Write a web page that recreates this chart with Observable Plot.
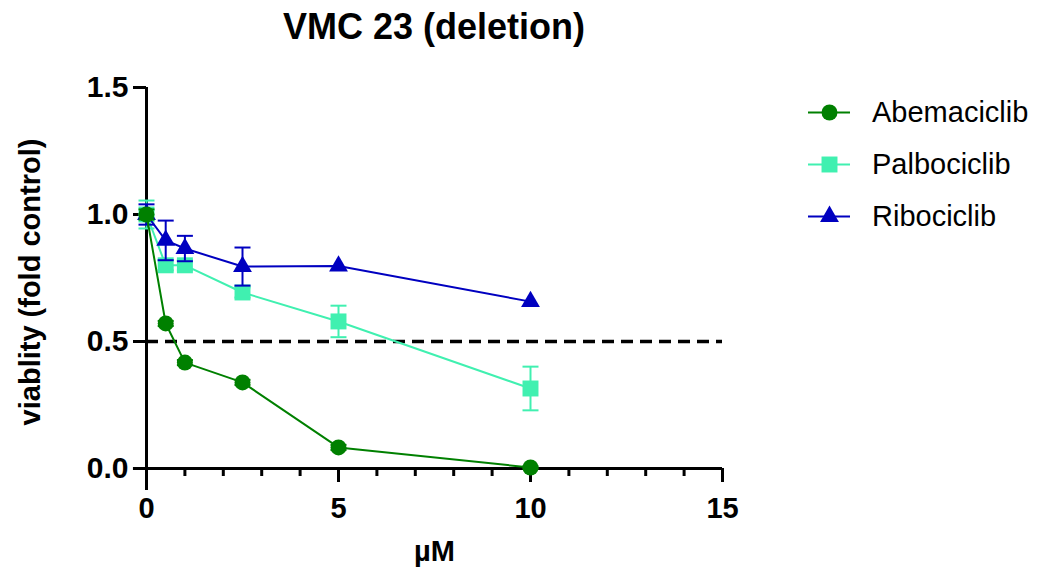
<!DOCTYPE html>
<html>
<head>
<meta charset="utf-8">
<script src="https://cdn.jsdelivr.net/npm/d3@7"></script>
<script src="https://cdn.jsdelivr.net/npm/@observablehq/plot@0.6"></script>
<style>
  html, body { margin: 0; padding: 0; background: #fff; }
  #wrap { position: relative; width: 1048px; height: 575px; font-family: "Liberation Sans", Arial, sans-serif; overflow: hidden; }
  #title { position: absolute; left: 0; top: 2px; width: 868px; height: 50px; text-align: center; font-weight: bold; font-size: 36px; line-height: 50px; }
  #chart { position: absolute; left: 0; top: 50px; }
  #legend { position: absolute; left: 808px; top: 0; }
  .row { position: absolute; left: 0; height: 30px; width: 240px; display: flex; align-items: center; }
  .row span { margin-left: 22px; font-size: 29px; color: #000; white-space: nowrap; }
</style>
</head>
<body>
<div id="wrap">
  <div id="title">VMC 23 (deletion)</div>
  <div id="chart"></div>
  <div id="legend"></div>
</div>
<script>
// ---- data ----
const doses = [0, 0.5, 1, 2.5, 5, 10];
const drugs = ["Abemaciclib", "Palbociclib", "Ribociclib"];
const abemaciclib = [1.0, 0.571, 0.417, 0.339, 0.083, 0.004];
const abemaciclibErr = [0.02, 0.01, 0.01, 0.01, 0.01, 0.005];
const palbociclib = [1.0, 0.80, 0.80, 0.693, 0.579, 0.315];
const palbociclibErr = [0.055, 0.02, 0.02, 0.02, 0.062, 0.086];
const ribociclib = [1.0, 0.898, 0.866, 0.795, 0.797, 0.657];
const ribociclibErr = [0.04, 0.078, 0.05, 0.075, 0, 0];
const colors = ["#008000", "#40F0B0", "#0000C0"];
const symbols = ["circle", "square", "triangle"];
const xTicks = [0, 5, 10, 15];
const xMinorTicks = [1, 2, 3, 4, 6, 7, 8, 9, 11, 12, 13, 14];
const yTicks = [0, 0.5, 1.0, 1.5];
const threshold = [0.5];
const xLabel = "µM";
const yLabel = "viablity (fold control)";

const seriesValues = [abemaciclib, palbociclib, ribociclib];
const seriesErr = [abemaciclibErr, palbociclibErr, ribociclibErr];
const rows = drugs.flatMap((drug, k) => doses.map((dose, i) => ({
  drug, dose, value: seriesValues[k][i], err: seriesErr[k][i]
})));

const capSymbol = {
  draw(context, size) {
    const w = Math.sqrt(size / Math.PI);
    context.moveTo(-w, 0);
    context.lineTo(w, 0);
  }
};
const symbolR = {circle: 8, square: 9, triangle: 7};

function seriesMarks(k) {
  const drug = drugs[k];
  const data = rows.filter(d => d.drug === drug);
  const bars = data.filter(d => d.err > 0);
  const c = colors[k];
  return [
    Plot.line(data, {x: "dose", y: "value", stroke: c, strokeWidth: 2}),
    Plot.ruleX(bars, {x: "dose", y1: d => d.value - d.err, y2: d => d.value + d.err, stroke: c, strokeWidth: 2}),
    Plot.dot(bars, {x: "dose", y: d => d.value + d.err, symbol: capSymbol, r: 8, fill: "none", stroke: c, strokeWidth: 2}),
    Plot.dot(bars, {x: "dose", y: d => d.value - d.err, symbol: capSymbol, r: 8, fill: "none", stroke: c, strokeWidth: 2}),
    Plot.dot(data, {x: "dose", y: "value", symbol: symbols[k], r: symbolR[symbols[k]], fill: c, stroke: "none"})
  ];
}

const chart = Plot.plot({
  width: 1048,
  height: 525,
  marginLeft: 146,
  marginRight: 326,
  marginTop: 37,
  marginBottom: 107,
  style: {fontFamily: "'Liberation Sans', Arial, sans-serif", background: "#fff", color: "#000"},
  x: {domain: [0, 15]},
  y: {domain: [0, 1.5]},
  marks: [
    Plot.ruleY(threshold, {stroke: "#000", strokeWidth: 3.5, strokeDasharray: "12,7"}),
    Plot.ruleX([0], {y1: -0.087, y2: 1.5, stroke: "#000", strokeWidth: 3}),
    Plot.ruleY([0], {x1: -0.34, x2: 15, stroke: "#000", strokeWidth: 3}),
    Plot.axisX({ticks: xMinorTicks, tickSize: 8, strokeWidth: 3, text: null, label: null}),
    Plot.axisX({ticks: xTicks, tickSize: 14, strokeWidth: 3, tickPadding: 15, fontSize: 29, fontWeight: "bold", tickFormat: d3.format("d"), label: null}),
    Plot.axisY({ticks: yTicks, tickSize: 13, strokeWidth: 3, tickPadding: 5, fontSize: 30, fontWeight: "bold", tickFormat: d3.format(".1f"), label: null}),
    Plot.text([xLabel], {frameAnchor: "bottom", dy: 92, fontSize: 29, fontWeight: "bold", fill: "#000"}),
    Plot.text([yLabel], {frameAnchor: "left", textAnchor: "middle", rotate: -90, dx: -116, dy: 4, fontSize: 29, fontWeight: "bold", fill: "#000"}),
    ...seriesMarks(1),
    ...seriesMarks(2),
    ...seriesMarks(0)
  ]
});
document.getElementById("chart").appendChild(chart);

// legend
const legend = document.getElementById("legend");
const rowY = [112, 164, 216];
drugs.forEach((drug, k) => {
  const row = document.createElement("div");
  row.className = "row";
  row.style.top = (rowY[k] - 15) + "px";
  const sym = Plot.plot({
    width: 42, height: 30, margin: 0,
    x: {domain: [0, 1], axis: null}, y: {domain: [0, 1], axis: null},
    marks: [
      Plot.ruleY([0.5], {x1: 0, x2: 1, stroke: colors[k], strokeWidth: 2}),
      Plot.dot([0.5], {x: d => d, y: 0.5, symbol: symbols[k], r: symbolR[symbols[k]], fill: colors[k], stroke: "none"})
    ]
  });
  row.appendChild(sym);
  const t = document.createElement("span");
  t.textContent = drug;
  row.appendChild(t);
  legend.appendChild(row);
});
</script>
</body>
</html>
